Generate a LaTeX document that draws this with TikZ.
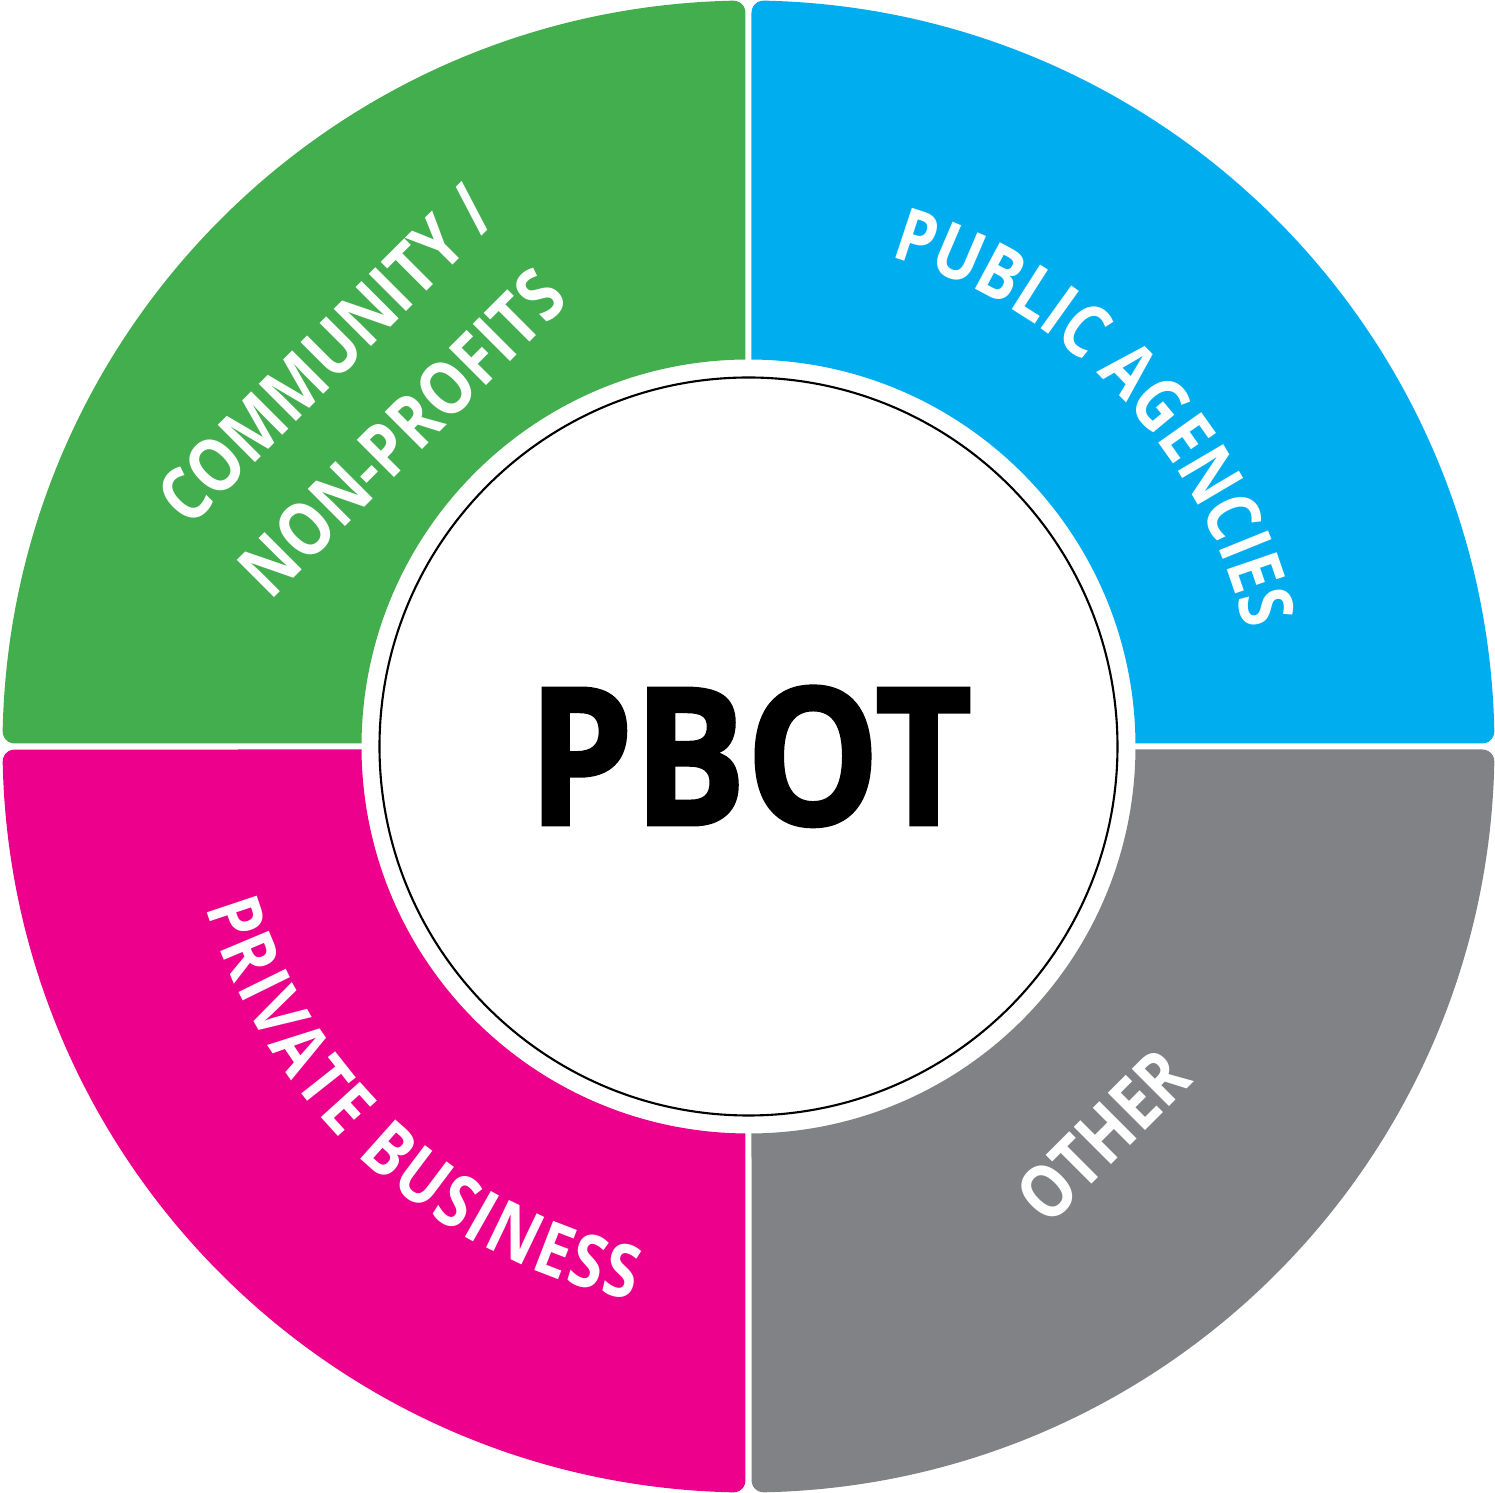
\documentclass[tikz,border=0pt]{standalone}
\usepackage{fontspec}
\setmainfont{Open Sans}
\newfontfamily\labelfont{Open Sans}[FakeStretch=0.84]
\newfontfamily\titlefont{Open Sans}[FakeStretch=0.875,FakeBold=1.5]
\usetikzlibrary{decorations.text}
\definecolor{pubblue}{RGB}{0,174,239}
\definecolor{commgreen}{RGB}{67,174,77}
\definecolor{privpink}{RGB}{236,0,140}
\definecolor{othergray}{RGB}{129,130,134}
\tikzset{
	sector label/.style={text=white, font=\labelfont\bfseries\fontsize{21}{25}\selectfont, inner sep=0pt},
	arc label/.style={decorate, decoration={text along path, text color=white, text align=center, text={|\labelfont\bfseries\fontsize{21}{25}\selectfont|#1}}}
}
\begin{document}
\begin{tikzpicture}
		\fill [white] (-7.485,-7.465) rectangle (7.465,7.465);
		\useasboundingbox (-7.485,-7.465) rectangle (7.465,7.465);
		% four sectors of the ring
		\foreach \ang/\col in {0/pubblue, 90/commgreen, 180/privpink, 270/othergray}
			\fill [\col, rotate=\ang] (0.03,3.8699) -- (0.03,7.3385)
				arc [start angle=180, end angle=88.829, radius=0.12]
				arc [start angle=88.829, end angle=1.171, radius=7.46]
				arc [start angle=1.171, end angle=-90, radius=0.12]
				-- (3.8699,0.03)
				arc [start angle=0.444, end angle=89.556, radius=3.87] -- cycle;
		% centre
		\draw [line width=0.6pt] (0,0) circle [radius=3.69];
		\node [anchor=base, inner sep=0pt, font=\titlefont\bfseries\fontsize{54.6}{60}\selectfont] (pbot) at (0.015,-0.785) {PBOT};
		% labels
		\path [arc label=PUBLIC AGENCIES] (88.5:5.10) arc [start angle=88.5, end angle=-1.5, radius=5.10];
		\path [arc label=PRIVATE BUSINESS, decoration={text align=fit to path}] (196.5:5.66) arc [start angle=196.5, end angle=258.2, radius=5.66];
		\node [sector label, rotate=45, anchor=base] (community) at (-4.04,3.73) {COMMUNITY /};
		\node [sector label, rotate=45, anchor=base] (nonprofits) at (-3.28,2.95) {NON-PROFITS};
		\node [sector label, rotate=45, anchor=base] (other) at (3.73,-4.08) {OTHER};
	\end{tikzpicture}
\end{document}
